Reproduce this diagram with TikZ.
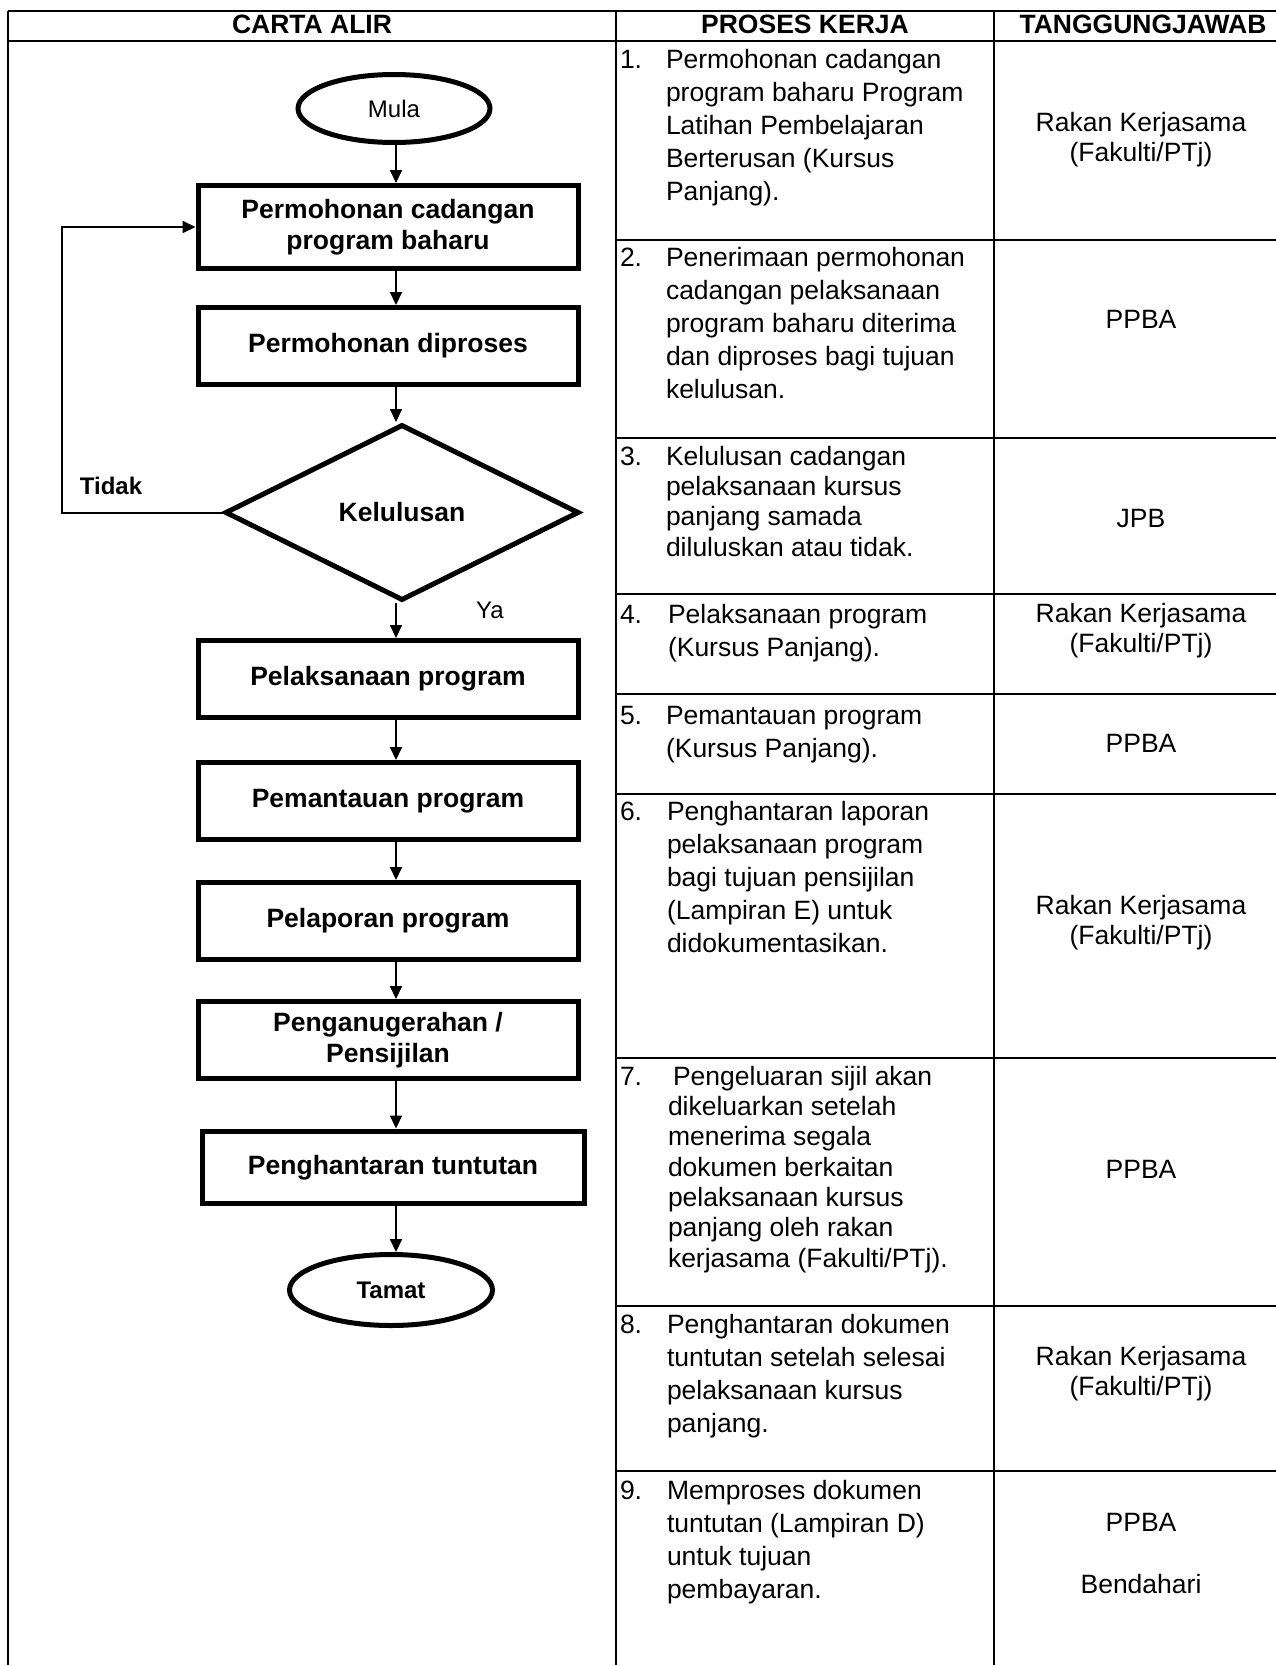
\documentclass[tikz,border=0pt]{standalone}
\usepackage{fontspec}
\setmainfont{Liberation Sans}
\usetikzlibrary{arrows.meta,positioning,shapes.geometric}
\newcommand{\teks}{\fontsize{26.5}{33}\selectfont}
\newcommand{\teksrapat}{\fontsize{26.5}{30.3}\selectfont}
\newcommand{\tekstugas}{\fontsize{26.5}{30}\selectfont}
\newcommand{\tekskotak}{\fontsize{26.5}{31}\selectfont\bfseries}
\newcommand{\tekskecil}{\fontsize{24}{28}\selectfont}
\tikzset{
carta/.style={x=1pt,y=-1pt,>={Triangle[length=13pt,width=12pt]},
line width=2pt},
garis/.style={line width=2pt},
aliran/.style={->,line width=2pt},
proses/.style={rectangle,draw,line width=5pt,minimum width=380pt,
minimum height=77pt,align=center,font=\tekskotak},
hujung/.style={ellipse,draw,line width=5pt,inner sep=0pt},
keputusan/.style={diamond,draw,line width=5pt,minimum width=354pt,
minimum height=176pt,inner sep=0pt,font=\tekskotak},
langkah/.style={anchor=base west,align=left,inner sep=0pt,font=\teks},
tugas/.style={anchor=base,align=center,inner sep=0pt,font=\tekstugas},
tajuk/.style={anchor=base,inner sep=0pt,font=\teks\bfseries},
}

\begin{document}
\begin{tikzpicture}[carta]
\fill[white] (0,0) rectangle (1276,1665);
\useasboundingbox (0,0) rectangle (1276,1665);

% jadual
\draw[garis] (8,11) -- (1276,11);
\draw[garis] (8,41) -- (1276,41);
\draw[garis] (8,11) -- (8,1665);
\draw[garis] (616,11) -- (616,1665);
\draw[garis] (994,11) -- (994,1665);
\draw[garis] (616,240) -- (1276,240);
\draw[garis] (616,438) -- (1276,438);
\draw[garis] (616,594) -- (1276,594);
\draw[garis] (616,694) -- (1276,694);
\draw[garis] (616,794) -- (1276,794);
\draw[garis] (616,1058) -- (1276,1058);
\draw[garis] (616,1306) -- (1276,1306);
\draw[garis] (616,1471) -- (1276,1471);

\node[tajuk] (h1) at (312,33) {CARTA ALIR};
\node[tajuk] (h2) at (805,33) {PROSES KERJA};
\node[tajuk] (h3) at (1143,33) {TANGGUNGJAWAB};

% carta alir
\node[hujung,minimum width=192pt,minimum height=68pt,font=\tekskecil] (mula) at (394,108.5) {Mula};
\node[proses,minimum height=83pt,below=38pt of mula,xshift=-6pt] (p1) {Permohonan cadangan\\program baharu};
\node[proses,below=34pt of p1] (p2) {Permohonan diproses};
\node[keputusan,below=35pt of p2,xshift=14pt] (kel) {Kelulusan};
\node[proses,below=35pt of kel,xshift=-14pt] (p3) {Pelaksanaan program};
\node[proses,below=40pt of p3] (p4) {Pemantauan program};
\node[proses,below=38pt of p4] (p5) {Pelaporan program};
\node[proses,below=37pt of p5] (p6) {Penganugerahan /\\Pensijilan};
\node[proses,minimum width=382pt,minimum height=72.5pt,below=47.5pt of p6,xshift=5pt] (p7) {Penghantaran tuntutan};
\node[hujung,minimum width=203pt,minimum height=71pt,font=\tekskecil\bfseries,below=46pt of p7,xshift=-2pt] (tamat) {Tamat};

\node[font=\tekskecil\bfseries] (tidak) at (111,486) {Tidak};
\node[font=\tekskecil] (ya) at (490,610) {Ya};

\coordinate (tulang) at (396,0);
\coordinate (balik) at (62,512);
\draw[aliran] (mula.south -| tulang) -- (p1.north -| tulang);
\draw[aliran] (p1.south -| tulang) -- (p2.north -| tulang);
\draw[aliran] (p2.south -| tulang) -- (kel.north -| tulang);
\draw[aliran] (kel.south -| tulang) -- (p3.north -| tulang);
\draw[aliran] (p3.south -| tulang) -- (p4.north -| tulang);
\draw[aliran] (p4.south -| tulang) -- (p5.north -| tulang);
\draw[aliran] (p5.south -| tulang) -- (p6.north -| tulang);
\draw[aliran] (p6.south -| tulang) -- (p7.north -| tulang);
\draw[aliran] (p7.south -| tulang) -- (tamat.north -| tulang);
\draw[aliran] (kel.west) -- (kel.west -| balik) |- (p1.west);

% proses kerja (titik rujukan pada garis dasar baris terakhir)
\node[langkah] (n1) at (619,68) {1.};
\node[langkah] (k1) at (665,200) {Permohonan cadangan\\program baharu Program\\Latihan Pembelajaran\\Berterusan (Kursus\\Panjang).};
\node[langkah] (n2) at (619,266.5) {2.};
\node[langkah] (k2) at (665,398.5) {Penerimaan permohonan\\cadangan pelaksanaan\\program baharu diterima\\dan diproses bagi tujuan\\kelulusan.};
\node[langkah,font=\teksrapat] (n3) at (619,465) {3.};
\node[langkah,font=\teksrapat] (k3) at (665,556) {Kelulusan cadangan\\pelaksanaan kursus\\panjang samada\\diluluskan atau tidak.};
\node[langkah] (n4) at (619,623) {4.};
\node[langkah] (k4) at (667,656) {Pelaksanaan program\\(Kursus Panjang).};
\node[langkah] (n5) at (619,724) {5.};
\node[langkah] (k5) at (665,757) {Pemantauan program\\(Kursus Panjang).};
\node[langkah] (n6) at (619,820.5) {6.};
\node[langkah] (k6) at (666,952.5) {Penghantaran laporan\\pelaksanaan program\\bagi tujuan pensijilan\\(Lampiran E) untuk\\didokumentasikan.};
\node[langkah,font=\teksrapat] (n7) at (619,1085) {7.};
\node[langkah,font=\teksrapat] (k7) at (667,1267) {\hspace*{5pt}Pengeluaran sijil akan\\dikeluarkan setelah\\menerima segala\\dokumen berkaitan\\pelaksanaan kursus\\panjang oleh rakan\\kerjasama (Fakulti/PTj).};
\node[langkah] (n8) at (619,1333) {8.};
\node[langkah] (k8) at (666,1432) {Penghantaran dokumen\\tuntutan setelah selesai\\pelaksanaan kursus\\panjang.};
\node[langkah] (n9) at (619,1499) {9.};
\node[langkah] (k9) at (666,1598) {Memproses dokumen\\tuntutan (Lampiran D)\\untuk tujuan\\pembayaran.};

% tanggungjawab
\node[tugas] (t1) at (1141,161.5) {Rakan Kerjasama\\(Fakulti/PTj)};
\node[tugas] (t2) at (1141,328) {PPBA};
\node[tugas] (t3) at (1141,527.5) {JPB};
\node[tugas] (t4) at (1141,652) {Rakan Kerjasama\\(Fakulti/PTj)};
\node[tugas] (t5) at (1141,752.5) {PPBA};
\node[tugas] (t6) at (1141,944.5) {Rakan Kerjasama\\(Fakulti/PTj)};
\node[tugas] (t7) at (1141,1178) {PPBA};
\node[tugas] (t8) at (1141,1395) {Rakan Kerjasama\\(Fakulti/PTj)};
\node[tugas] (t9) at (1141,1531) {PPBA};
\node[tugas] (t10) at (1141,1593.5) {Bendahari};
\end{tikzpicture}
\end{document}
